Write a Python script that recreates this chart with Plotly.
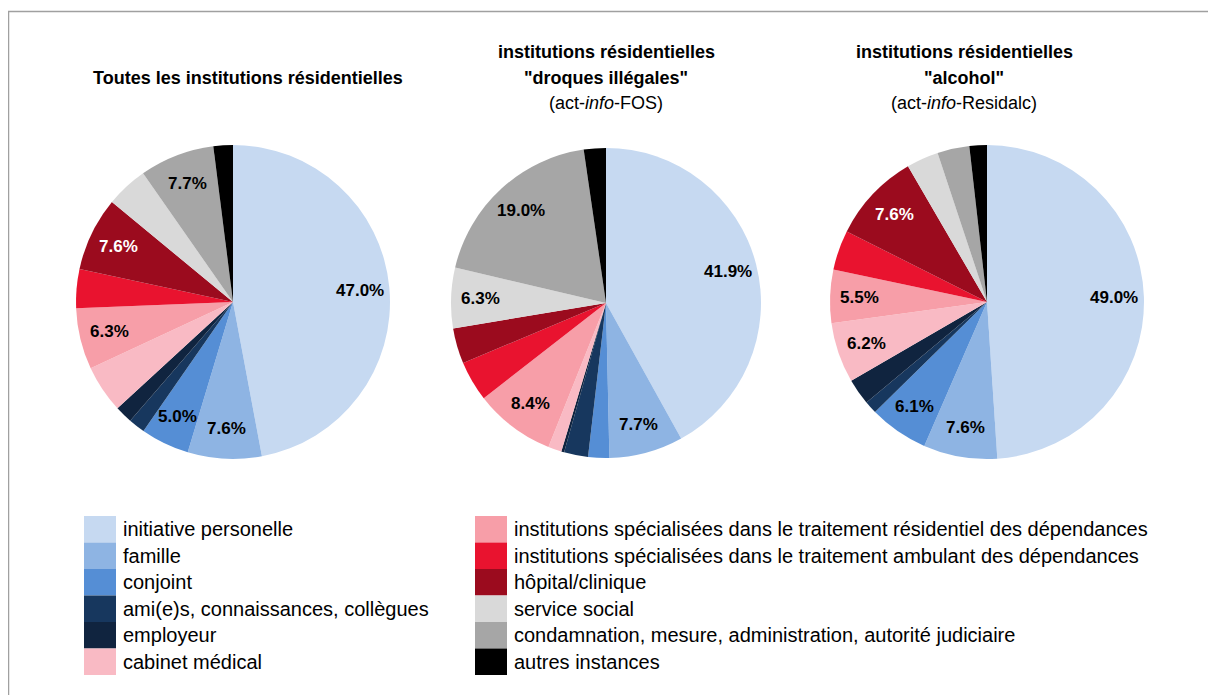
import numpy as np
import plotly.graph_objects as go

categories = [
    "initiative personelle",
    "famille",
    "conjoint",
    "ami(e)s, connaissances, collègues",
    "employeur",
    "cabinet médical",
    "institutions spécialisées dans le traitement résidentiel des dépendances",
    "institutions spécialisées dans le traitement ambulant des dépendances",
    "hôpital/clinique",
    "service social",
    "condamnation, mesure, administration, autorité judiciaire",
    "autres instances",
]
colors = ["#C6D9F1", "#8EB4E3", "#558ED5", "#17375E", "#10243F", "#F9BAC4",
          "#F79EA8", "#E9132F", "#9B0B1E", "#D9D9D9", "#A6A6A6", "#000000"]

# shares (%)
all_resid = [47.0, 7.6, 5.0, 1.7, 1.8, 4.9, 6.3, 4.0, 7.6, 4.3, 7.7, 2.0]
fos = [41.9, 7.7, 2.2, 2.5, 0.3, 1.4, 8.4, 4.2, 3.7, 6.3, 19.0, 2.3]
residalc = [49.0, 7.6, 6.1, 1.3, 2.7, 6.2, 5.5, 4.1, 9.2, 3.3, 3.3, 1.8]

# data labels as printed on the chart
lab_all = ["47.0%", "7.6%", "5.0%", "", "", "", "6.3%", "", "7.6%", "", "7.7%", ""]
lab_fos = ["41.9%", "7.7%", "", "", "", "", "8.4%", "", "", "6.3%", "19.0%", ""]
lab_alc = ["49.0%", "7.6%", "6.1%", "", "", "6.2%", "5.5%", "", "7.6%", "", "", ""]

W, H = 1216, 695
OFF = 8  # page body margin offset
FONT = "Liberation Sans, Arial, sans-serif"
LABEL_R = 0.81  # data label distance from centre, fraction of radius

def px(x):
    return (x - OFF) / W

def py(y):
    return 1 - (y - OFF) / H

def dom(cx, cy, r):
    return dict(x=[px(cx - r), px(cx + r)], y=[py(cy + r), py(cy - r)])

txtcol = ["white" if c == "hôpital/clinique" else "black" for c in categories]

ann = []
def add_text(x, y, txt, size=18, anchor="center", color="black"):
    ann.append(dict(x=px(x), y=py(y), xref="paper", yref="paper",
                    text=txt, showarrow=False, xanchor=anchor, yanchor="middle",
                    font=dict(family=FONT, size=size, color=color)))

fig = go.Figure()
for vals, labs, (cx, cy, r) in [
    (all_resid, lab_all, (233, 302, 157)),
    (fos, lab_fos, (606, 303, 155)),
    (residalc, lab_alc, (987, 302, 157)),
]:
    fig.add_trace(go.Pie(
        labels=categories, values=vals,
        textinfo="none",
        marker=dict(colors=colors, line=dict(width=0)),
        sort=False, direction="clockwise", rotation=0,
        domain=dom(cx, cy, r), showlegend=False,
        hoverinfo="label+value",
    ))
    v = np.asarray(vals, dtype=float)
    mid = (np.cumsum(v) - v / 2) / v.sum()
    theta = 2 * np.pi * mid
    for lab, th, col in zip(labs, theta, txtcol):
        if lab:
            add_text(cx + LABEL_R * r * np.sin(th), cy - LABEL_R * r * np.cos(th),
                     "<b>" + lab + "</b>", size=17, color=col)

add_text(248, 78, "<b>Toutes les institutions résidentielles</b>")
add_text(606, 52, "<b>institutions résidentielles</b>")
add_text(606, 78, "<b>\"droques illégales\"</b>")
add_text(606, 103, "(act-<i>info</i>-FOS)")
add_text(964, 52, "<b>institutions résidentielles</b>")
add_text(964, 78, "<b>\"alcohol\"</b>")
add_text(964, 103, "(act-<i>info</i>-Residalc)")

shapes = [dict(type="rect", xref="paper", yref="paper",
               x0=px(8.5), x1=1.05, y0=-0.05, y1=py(11.5),
               line=dict(color="#A0A0A0", width=1.5), fillcolor="rgba(0,0,0,0)")]

row_h = 26.5
top = 516
for i, (cat, col) in enumerate(zip(categories, colors)):
    colx = 84 if i < 6 else 475
    j = i % 6
    y0 = top + j * row_h
    shapes.append(dict(type="rect", xref="paper", yref="paper",
                       x0=px(colx), x1=px(colx + 32),
                       y0=py(y0 + row_h), y1=py(y0),
                       line=dict(width=0), fillcolor=col))
    add_text(colx + 37, y0 + row_h / 2, cat, size=20, anchor="left")

fig.update_layout(
    width=W, height=H, margin=dict(l=0, r=0, t=0, b=0),
    paper_bgcolor="white", plot_bgcolor="white",
    annotations=ann, shapes=shapes,
    font=dict(family=FONT),
)

fig.write_html("out.html")
